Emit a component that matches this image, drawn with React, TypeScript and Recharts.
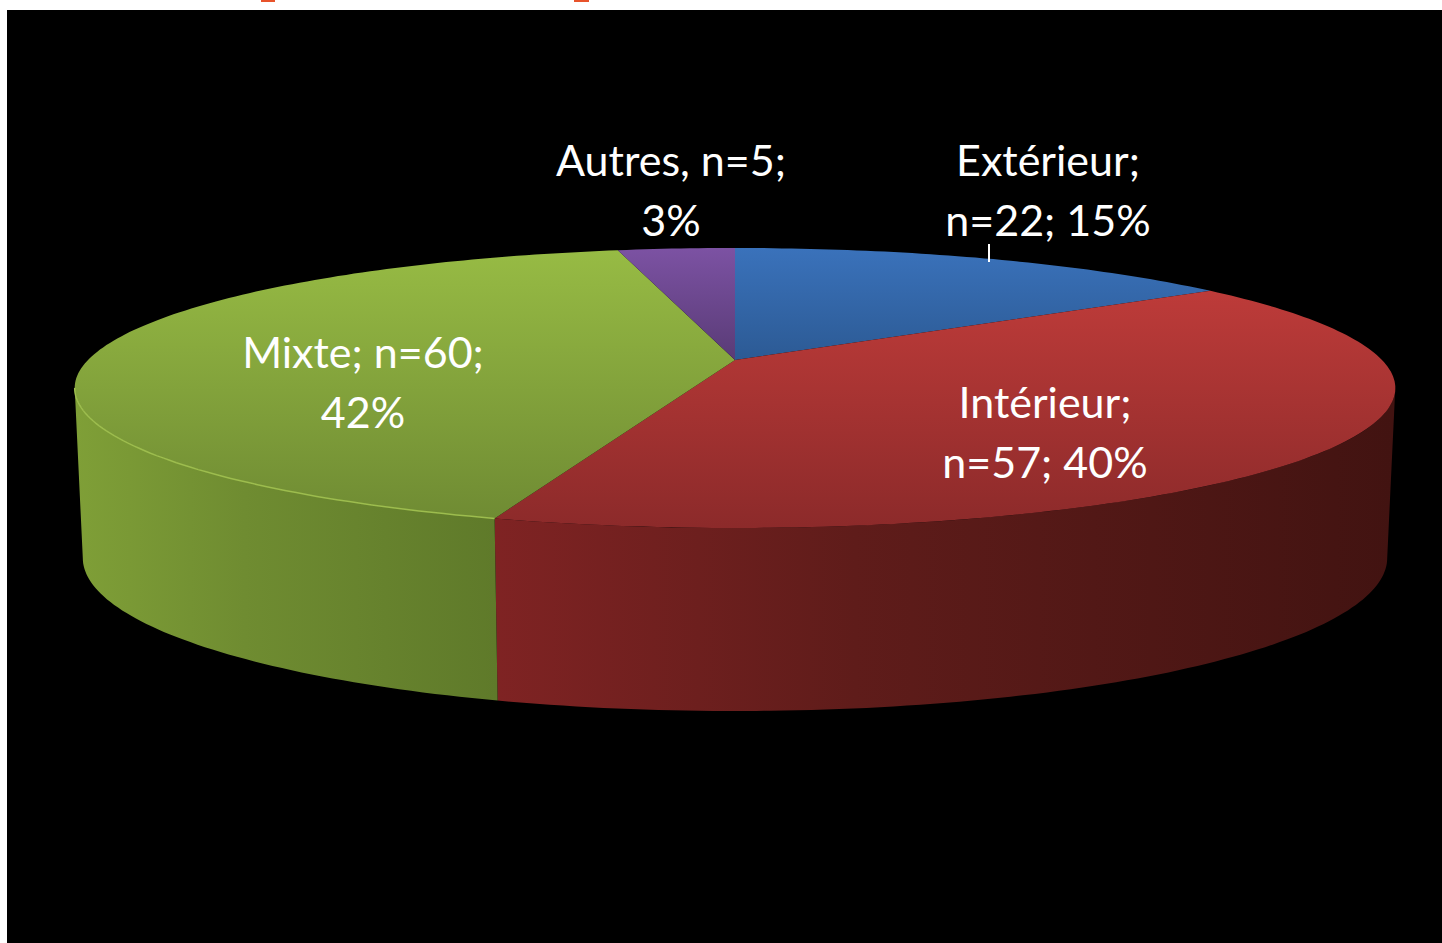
import React from 'react';
import { PieChart, Pie } from 'recharts';

const categories = ['Extérieur', 'Intérieur', 'Mixte', 'Autres'];
const counts = [22, 57, 60, 5];
const labelLines = [
  ['Extérieur;', 'n=22; 15%'],
  ['Intérieur;', 'n=57; 40%'],
  ['Mixte; n=60;', '42%'],
  ['Autres, n=5;', '3%'],
];

const data = categories.map((name, i) => ({ name, value: counts[i] }));

// label placement: centre x, first baseline
const labelAnchors = [
  { x: 1048, y: 176 },
  { x: 1045, y: 418 },
  { x: 363, y: 368 },
  { x: 671, y: 176 },
];

const topColors = [
  ['#3a72bb', '#2c5a94'],
  ['#bd3b39', '#8c2a2a'],
  ['#97bb44', '#6f8b33'],
  ['#7c52a3', '#593b76'],
];
const topRange = [
  [248, 360],
  [292, 528],
  [250, 520],
  [248, 360],
];
const wallColors = [
  ['#2c5a94', '#2c5a94', '#2c5a94'],
  ['#7f2323', '#5f1c1a', '#421311'],
  ['#7f9f37', '#6f8c31', '#5f7a2a'],
  ['#593b76', '#593b76', '#593b76'],
];
const wallRange = [
  [735, 1397],
  [497, 1392],
  [76, 497],
  [497, 735],
];

// perspective of the disc, both faces
const K = 0.2;
const TOP_B = 134.4;
const BOTTOM_R = 639;
const BOTTOM_B = 146.9;
const BOTTOM_Y = 527.4;
// clockwise degrees from 12 o'clock where the outline is widest
const WALL_FROM = 101.5;
const WALL_TO = 258.5;

const project = (deg: number, cx: number, cy: number, r: number, b: number) => {
  const t = (deg * Math.PI) / 180;
  const w = 1 / (1 + K * Math.cos(t));
  return [cx + r * Math.sin(t) * w, cy - b * Math.cos(t) * w];
};

const arc = (from: number, to: number, cx: number, cy: number, r: number, b: number) => {
  const pts: number[][] = [];
  const steps = Math.max(2, Math.ceil(Math.abs(to - from)));
  for (let i = 0; i <= steps; i++) {
    pts.push(project(from + ((to - from) * i) / steps, cx, cy, r, b));
  }
  return pts;
};

const toPath = (pts: number[][]) =>
  pts.map((p, i) => `${i ? 'L' : 'M'}${p[0].toFixed(1)},${p[1].toFixed(1)}`).join(' ');

const Slice3D = (props: any) => {
  const { cx, cy, outerRadius, startAngle, endAngle, index } = props;
  const from = 90 - startAngle;
  const to = 90 - endAngle;
  const a = Math.max(from, WALL_FROM);
  const z = Math.min(to, WALL_TO);
  const top = arc(from, to, cx, cy, outerRadius, TOP_B);
  return (
    <g>
      <defs>
        <linearGradient id={`top${index}`} gradientUnits="userSpaceOnUse" x1="0" x2="0" y1={topRange[index][0]} y2={topRange[index][1]}>
          <stop offset="0" stopColor={topColors[index][0]} />
          <stop offset="1" stopColor={topColors[index][1]} />
        </linearGradient>
        <linearGradient id={`wall${index}`} gradientUnits="userSpaceOnUse" y1="0" y2="0" x1={wallRange[index][0]} x2={wallRange[index][1]}>
          <stop offset="0" stopColor={wallColors[index][0]} />
          <stop offset="0.4" stopColor={wallColors[index][1]} />
          <stop offset="1" stopColor={wallColors[index][2]} />
        </linearGradient>
      </defs>
      {z > a && (
        <path
          d={`${toPath([
            ...arc(a, z, cx, cy, outerRadius, TOP_B),
            ...arc(z, a, cx, BOTTOM_Y, BOTTOM_R, BOTTOM_B),
          ])} Z`}
          fill={`url(#wall${index})`}
        />
      )}
      <path d={`${toPath([[cx, cy], ...top])} Z`} fill={`url(#top${index})`} />
      {index === 2 && (
        <path d={toPath(arc(a, z, cx, cy, outerRadius, TOP_B))} fill="none" stroke="#9dbd4e" strokeWidth={1.5} />
      )}
    </g>
  );
};

const SliceLabel = (props: any) => {
  const { index } = props;
  const { x, y } = labelAnchors[index];
  return (
    <g>
      <text x={x} textAnchor="middle" fontFamily="Lato" fontSize={43} fill="#ffffff">
        {labelLines[index].map((line, i) => (
          <tspan key={line} x={x} y={y + i * 60}>
            {line}
          </tspan>
        ))}
      </text>
      {index === 0 && <line x1={989} x2={989} y1={244} y2={262} stroke="#ffffff" strokeWidth={2} />}
    </g>
  );
};

const App = () => {
  return (
    <div style={{ position: 'absolute', left: 0, top: 0, width: 1442, height: 943, background: '#ffffff', overflow: 'hidden' }}>
      <div style={{ position: 'absolute', left: 261, top: 0, width: 14, height: 2, background: '#e8532b' }} />
      <div style={{ position: 'absolute', left: 574, top: 0, width: 15, height: 2, background: '#e8532b' }} />
      <div style={{ position: 'absolute', left: 7, top: 10, width: 1435, height: 933, background: '#000000' }} />
      <div style={{ position: 'absolute', left: 0, top: 0 }}>
        <PieChart width={1442} height={943} margin={{ top: 0, right: 0, bottom: 0, left: 0 }}>
          <Pie
            data={data}
            dataKey="value"
            nameKey="name"
            cx={735}
            cy={360}
            innerRadius={0}
            outerRadius={647}
            startAngle={90}
            endAngle={-270}
            paddingAngle={0}
            stroke="none"
            shape={Slice3D}
            label={SliceLabel}
            labelLine={false}
            isAnimationActive={false}
          />
        </PieChart>
      </div>
    </div>
  );
};

export default App;
